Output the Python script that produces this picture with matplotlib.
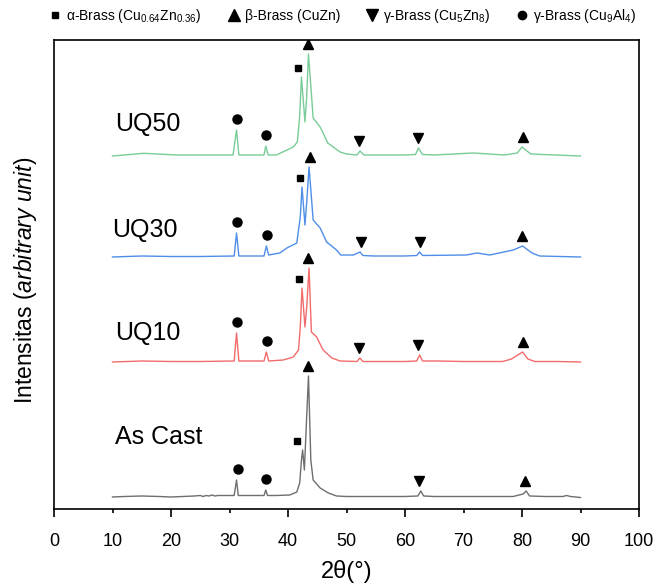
import numpy as np
import matplotlib
matplotlib.use('Agg')
import matplotlib.pyplot as plt
from matplotlib.lines import Line2D

plt.rcParams['font.family'] = ['Liberation Sans', 'DejaVu Sans']
plt.rcParams['mathtext.fontset'] = 'custom'
plt.rcParams['mathtext.rm'] = 'Liberation Sans'
plt.rcParams['mathtext.it'] = 'Liberation Sans:italic'

# XRD patterns, 2theta (deg) and intensity above own baseline (arbitrary)
theta_ascast = [10, 12, 15, 18, 20, 22, 24, 25, 25.5, 26, 26.5, 27, 27.5, 28, 29, 30.8, 31.2, 31.5,
                35.9, 36.2, 36.5, 38, 40.3, 41.5, 42.0, 42.3, 42.5, 42.8, 43.0, 43.5, 43.9, 44.3,
                45.5, 46.9, 48.3, 50, 55, 60, 62.2, 62.7, 63.2, 65, 70, 75, 78.5, 79.5, 80.2, 80.7,
                81.3, 84, 87, 87.6, 88.3, 90]
int_ascast = [0, 0.5, 1, 0.5, 0, 0.5, 1, 1.5, 0.5, 1.5, 1, 2, 1, 1.5, 1.5, 1.5, 17, 1.5,
              1.5, 7, 1.5, 1.5, 2, 5, 14, 37, 47, 27, 54, 121, 37, 17,
              9, 4, 1, 0.5, 0.5, 0.5, 1, 6, 1, 0.5, 0.5, 0.5, 0.5, 2, 3, 6,
              1, 0.5, 0.5, 1.5, 0.5, -0.5]

theta_uq10 = [10, 15, 20, 25, 30.8, 31.2, 31.6, 35.9, 36.3, 36.7, 39.2, 40.9, 41.8, 42.1, 42.4, 42.9,
              43.2, 43.6, 44.0, 44.9, 46.0, 47.5, 48.9, 51.8, 52.3, 52.8, 60, 62.0, 62.5, 63.0,
              65.7, 70, 76.7, 78.2, 80.1, 81.0, 82.2, 86, 90]
int_uq10 = [0, 1, 0.5, 0.5, 1, 29, 1, 1, 10, 1, 2, 5, 12, 35, 74, 35,
            55, 94, 30, 25, 12, 4, 1, 0.5, 4, 0.5, 0.5, 1, 7, 1,
            1, 0.5, 0.5, 3, 10, 3, 0.5, 0.5, 0]

theta_uq30 = [10, 15, 20, 25, 30.8, 31.2, 31.6, 35.9, 36.3, 36.7, 38.6, 39.8, 41.5, 42.1, 42.4, 42.9,
              43.2, 43.6, 44.3, 45.5, 46.6, 48.3, 49.0, 51.2, 52.3, 52.8, 54.6, 60, 62.0, 62.5,
              63.0, 70.5, 72.3, 74.5, 78.5, 80.1, 81.7, 83, 90]
int_uq30 = [0, 1, 0.5, 0.5, 1, 24, 1, 1, 11, 2, 4, 9, 14, 40, 70, 32,
            55, 90, 37, 29, 15, 7, 2, 2, 5, 1.5, 1, 1, 1.5, 5,
            1.5, 2, 4, 2, 7, 11, 4, 1, 0]

theta_uq50 = [10, 15.3, 21, 25, 30.6, 31.2, 31.6, 35.9, 36.2, 36.6, 38, 39.1, 40.9, 41.6, 42.0, 42.3,
              42.9, 43.2, 43.5, 44.3, 45.5, 46.8, 48.9, 50, 51.8, 52.3, 53, 60, 61.8, 62.3,
              63.0, 65, 71.7, 77, 79.2, 80.0, 81.5, 90]
int_uq50 = [0, 2.7, 1, 1, 1, 26, 1, 1, 10, 1, 1, 4, 9, 14, 40, 79,
            34, 60, 102, 38, 29, 13, 4, 2, 1, 5, 1, 1, 1.5, 8,
            1.5, 1, 3, 1, 3, 9, 2, 0]

# phase marks: (2theta, symbol)
marks_ascast = [(31.4, 'o'), (36.3, 'o'), (41.6, 's'), (43.4, '^'), (62.4, 'v'), (80.5, '^')]
marks_uq10 = [(31.3, 'o'), (36.4, 'o'), (41.8, 's'), (43.5, '^'), (52.2, 'v'), (62.2, 'v'), (80.2, '^')]
marks_uq30 = [(31.3, 'o'), (36.4, 'o'), (42.0, 's'), (43.8, '^'), (52.4, 'v'), (62.6, 'v'), (80.0, '^')]
marks_uq50 = [(31.3, 'o'), (36.3, 'o'), (41.7, 's'), (43.5, '^'), (52.2, 'v'), (62.3, 'v'), (80.1, '^')]

names = ['As Cast', 'UQ10', 'UQ30', 'UQ50']
colors = ['#6e6e6e', '#f26b6b', '#4f8ee8', '#79cc98']
offsets = [12, 147, 252, 353]
label_pos = [(10.5, 72), (10.5, 176), (10.0, 279), (10.5, 385)]

fig = plt.figure(figsize=(6.56, 5.88), dpi=100)
ax = fig.add_axes([54 / 656, 79 / 588, 585 / 656, 469 / 588])

msize = {'o': 6.5, 's': 5, '^': 7.5, 'v': 7.5}
gap = {'o': 11, 's': 9, '^': 10, 'v': 10}
win_w = {'o': 0.7, 's': 0.95, '^': 0.7, 'v': 0.7}

series = [(theta_ascast, int_ascast, marks_ascast), (theta_uq10, int_uq10, marks_uq10),
          (theta_uq30, int_uq30, marks_uq30), (theta_uq50, int_uq50, marks_uq50)]

for (th, it, marks), name, c, off, lp in zip(series, names, colors, offsets, label_pos):
    th = np.array(th)
    y = np.array(it) + off
    ax.plot(th, y, color=c, lw=1.0)
    for t, m in marks:
        win = (th >= t - win_w[m]) & (th <= t + win_w[m])
        ytop = y[win].max() if win.any() else np.interp(t, th, y)
        ax.plot(t, ytop + gap[m], marker=m, color='black', ms=msize[m], ls='none')
    ax.text(lp[0], lp[1], name, fontsize=18, va='center', ha='left')

ax.set_xlim(0, 100)
ax.set_ylim(0, 469)
ax.set_yticks([])
ax.set_xticks(np.arange(0, 101, 20))
ax.set_xticks(np.arange(10, 100, 20), minor=True)
ax.set_xticklabels([str(v) for v in range(0, 101, 20)])
ax.set_xticklabels([str(v) for v in range(10, 100, 20)], minor=True)
ax.tick_params(axis='x', which='major', direction='out', length=5.8, width=1.2, pad=11.5, labelsize=13)
ax.tick_params(axis='x', which='minor', direction='out', length=2.9, width=1.2, pad=14.4, labelsize=13)
for s in ax.spines.values():
    s.set_linewidth(1.2)

ax.set_xlabel('2θ(°)', fontsize=17, labelpad=7)
ax.set_ylabel(r'Intensitas ($\mathit{arbitrary\ unit}$)', fontsize=16.5)
ax.yaxis.set_label_coords(-0.026, 0.488)

handles = [Line2D([], [], marker='s', ls='none', color='black', ms=5),
           Line2D([], [], marker='^', ls='none', color='black', ms=8),
           Line2D([], [], marker='v', ls='none', color='black', ms=8),
           Line2D([], [], marker='o', ls='none', color='black', ms=6)]
labels = ['α-Brass (Cu$_{0.64}$Zn$_{0.36}$)', 'β-Brass (CuZn)',
          'γ-Brass (Cu$_{5}$Zn$_{8}$)', 'γ-Brass (Cu$_{9}$Al$_{4}$)']
fig.legend(handles, labels, loc='center', bbox_to_anchor=(0.523, 0.973), ncol=4, frameon=False,
           fontsize=10, handlelength=0.8, handletextpad=0.4, columnspacing=1.9, borderpad=0)

fig.savefig('out.png', dpi=100)
